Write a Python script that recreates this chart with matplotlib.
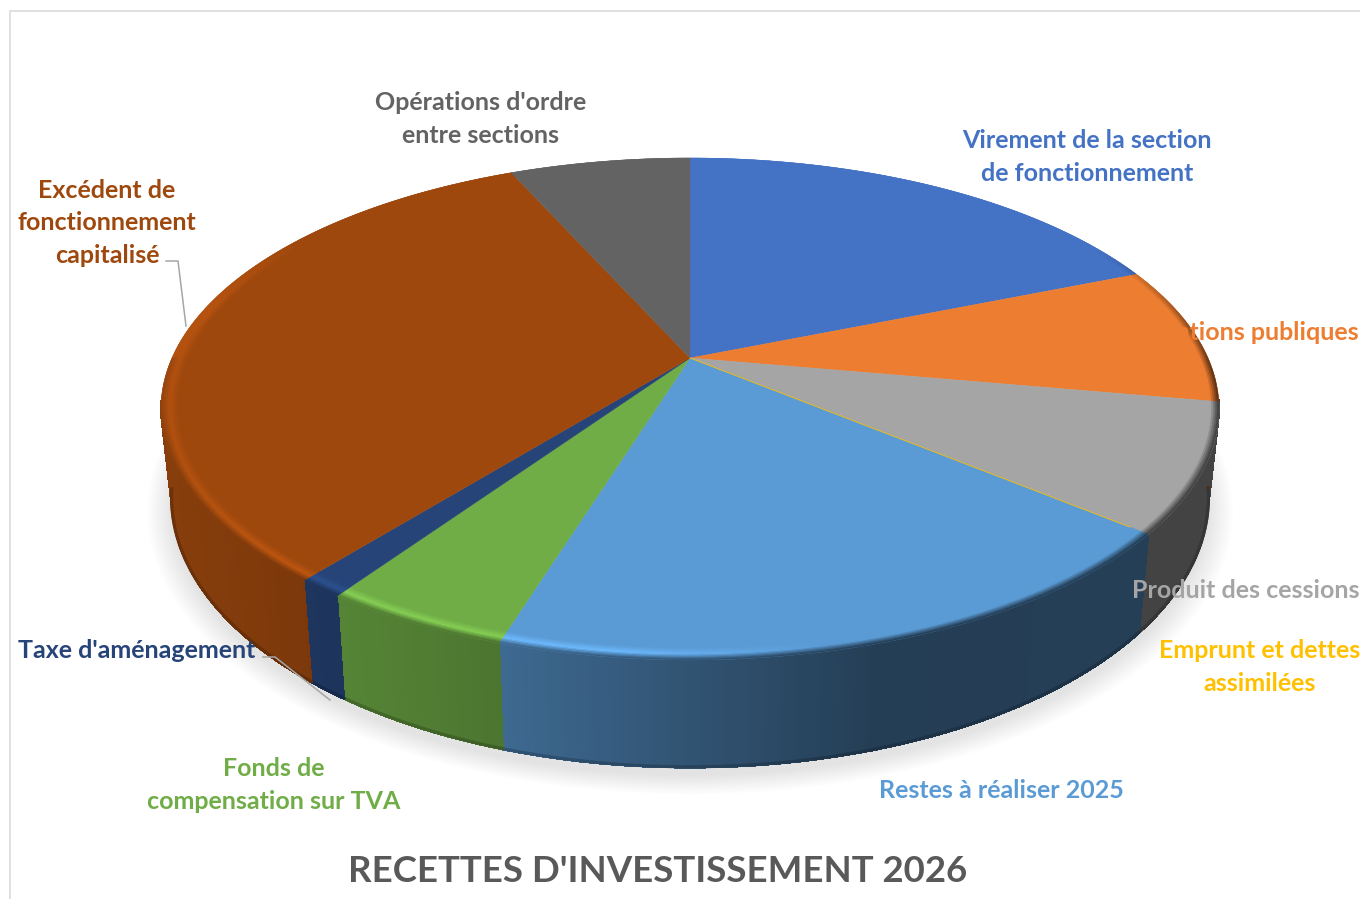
import numpy as np
import matplotlib
matplotlib.use("Agg")
import matplotlib.pyplot as plt
from matplotlib.collections import PolyCollection, LineCollection
from matplotlib.colors import to_rgb

# RECETTES D'INVESTISSEMENT 2026 : shares, clockwise from the top
categories = ["Virement de la section\nde fonctionnement", "Subventions publiques", "Produit des cessions",
              "Emprunt et dettes\nassimilées", "Restes à réaliser 2025", "Fonds de\ncompensation sur TVA",
              "Taxe d'aménagement", "Excédent de\nfonctionnement\ncapitalisé", "Opérations d'ordre\nentre sections"]
values = [18.9, 8.9, 8.2, 0.0, 18.8, 4.8, 1.2, 32.5, 6.7]
colors = ["#4472C4", "#ED7D31", "#A5A5A5", "#FFC000", "#5B9BD5", "#70AD47", "#264478", "#9E480E", "#636363"]
label_pos = [(1087, 157), (1233, 333), (1246, 591), (1260, 667), (1001, 791), (274, 785), (137, 651), (107, 223), (481, 119)]

plt.rcParams['font.family'] = ['Lato', 'DejaVu Sans']
FS = 18

# pie geometry in pixels, the disc is seen in perspective
cx, cy = 690, 358
R, S, k = 518, 240.6, 0.203
D = 86
BAND = 0.034


def top(r, th):
    u, v = r * np.sin(th), -r * np.cos(th)
    w = 1 - k * v
    return cx + R * u / w, cy + S * v / w


def bottom(r, th):
    x, y = top(r, th)
    v = -r * np.cos(th)
    return cx + 0.98 * (x - cx), y + D / (1 - k * v)


def side_shade(x):
    return np.interp(x, [160, 500, 880, 1360], [0.86, 0.68, 0.40, 0.41])


fig = plt.figure(figsize=(13.6, 8.99), dpi=100)
ax = fig.add_axes([0, 0, 1, 1])
ax.set_xlim(0, 1360)
ax.set_ylim(899, 0)
ax.axis('off')

# frame
ax.plot([10, 10, 1360], [899, 11, 11], color="#DDDDDD", lw=1.3, zorder=1)

fractions = np.array(values) / sum(values)
edges = np.concatenate([[0], np.cumsum(fractions)]) * 2 * np.pi

# soft shadow under the pie
circle = np.linspace(0, 2 * np.pi, 361)
for g in np.linspace(1.045, 1.0, 14):
    x, y = bottom(g, circle)
    ax.fill(x, y + 8, color="black", alpha=0.009, lw=0, zorder=2)

# side wall, only the part that can be seen from the front
quads, quad_cols, low_segs, low_cols = [], [], [], []
for i, col in enumerate(colors):
    if values[i] == 0:
        continue
    base = np.array(to_rgb(col))
    th = np.linspace(edges[i], edges[i + 1], max(2, int((edges[i + 1] - edges[i]) * 180 / np.pi) * 2 + 2))
    xt, yt = top(1, th)
    xb, yb = bottom(1, th)
    for j in range(len(th) - 1):
        if -np.cos(th[j]) < 0.165 or -np.cos(th[j + 1]) < 0.165:
            continue
        quads.append([(xt[j], yt[j]), (xt[j + 1], yt[j + 1]), (xb[j + 1], yb[j + 1]), (xb[j], yb[j])])
        c = base * side_shade(xt[j])
        quad_cols.append(c)
        low_segs.append([(xb[j], yb[j] - 1), (xb[j + 1], yb[j + 1] - 1)])
        low_cols.append(c * 0.8)
ax.add_collection(PolyCollection(quads, facecolors=quad_cols, edgecolors='face', linewidths=0.5,
                                 antialiaseds=False, zorder=3))
ax.add_collection(LineCollection(low_segs, colors=low_cols, linewidths=2.2, capstyle='round', zorder=3.1))

# top surface
for i, col in enumerate(colors):
    th = np.linspace(edges[i], edges[i + 1], 200)
    x, y = top(1, th)
    if values[i] == 0:
        ax.plot([cx, x[0]], [cy, y[0]], color=col, lw=0.6, zorder=4.5)
    else:
        ax.fill(np.r_[cx, x], np.r_[cy, y], color=col, lw=0.3, zorder=4)

# bevel round the rim
steps = np.linspace(1 - BAND, 1, 11)
bev, bev_cols = [], []
for i, col in enumerate(colors):
    if values[i] == 0:
        continue
    base = np.array(to_rgb(col))
    th = np.linspace(edges[i], edges[i + 1], max(2, int((edges[i + 1] - edges[i]) * 180 / np.pi) * 2 + 2))
    for j in range(len(th) - 1):
        xm, _ = top(1, th[j])
        vm = -np.cos(th[j])
        if xm < cx:
            dark = np.interp(vm, [0.0, 0.45], [0, 1])
        else:
            dark = np.interp(vm, [-0.5, 0.05], [0, 1])
        hi_amt = np.interp(xm, [160, 260, 620, 830], [0.65, 1, 1, 0]) * np.interp(vm, [-0.55, -0.2], [0, 1])
        hi = np.clip(base * (1 + 0.2 * hi_amt), 0, 1)
        wall = base * (1 - dark) + base * side_shade(xm) * dark
        if dark == 0:
            wall = hi
        for n in range(len(steps) - 1):
            x0, y0 = top(steps[n], th[j:j + 2])
            x1, y1 = top(steps[n + 1], th[j:j + 2])
            t = n / (len(steps) - 2)
            if t < 0.55:
                c = base + (hi - base) * t / 0.55
            else:
                c = hi + (wall - hi) * (t - 0.55) / 0.45
            bev.append([(x0[0], y0[0]), (x0[1], y0[1]), (x1[1], y1[1]), (x1[0], y1[0])])
            bev_cols.append(c)
ax.add_collection(PolyCollection(bev, facecolors=bev_cols, edgecolors='face', linewidths=0.3, zorder=5))

# leader lines
ax.plot([166, 178, 186], [261, 261, 326], color="#A6A6A6", lw=1.1, zorder=6)
ax.plot([263, 275, 330], [657, 657, 700], color="#A6A6A6", lw=1.1, zorder=6)

# labels
for name, col, (lx, ly) in zip(categories, colors, label_pos):
    ax.text(lx, ly, name, color=col, fontsize=FS, fontweight='bold', ha='center', va='center',
            linespacing=1.48, zorder=7)

ax.text(658, 872, "RECETTES D'INVESTISSEMENT 2026", color="#595959", fontsize=26.4, fontweight='bold',
        ha='center', va='center', zorder=7)

fig.savefig("out.png", dpi=100)
